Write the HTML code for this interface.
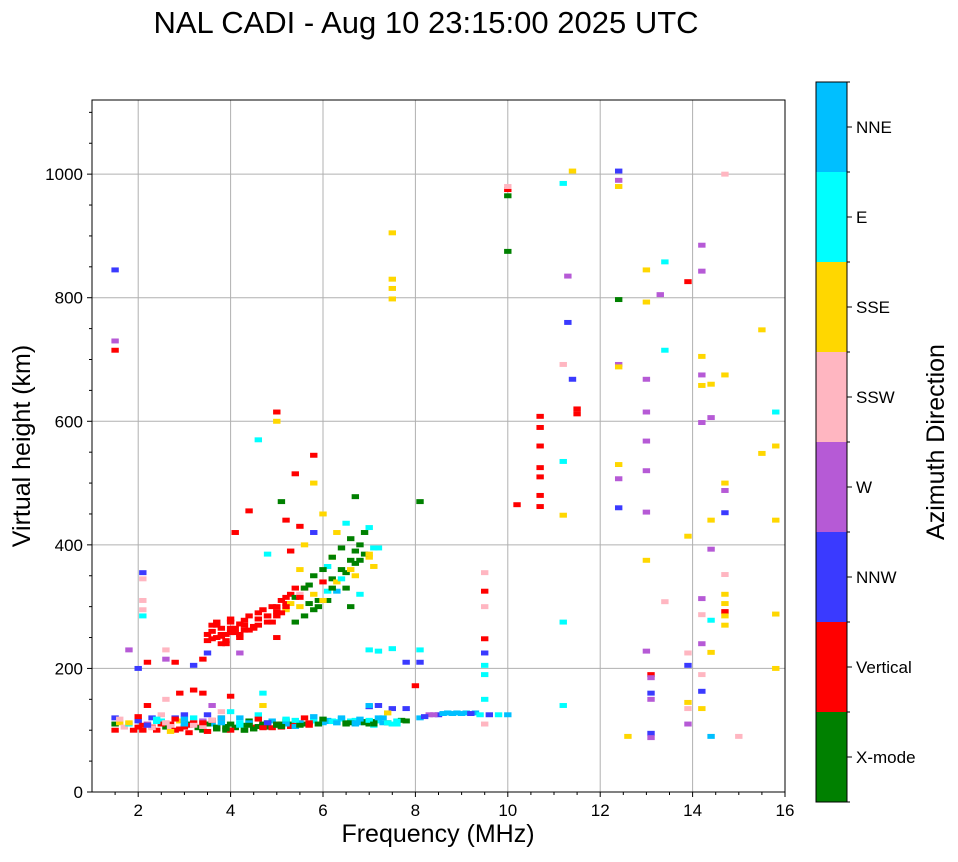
<!DOCTYPE html>
<html><head><meta charset="utf-8"><style>
body{margin:0;background:#fff;font-family:"Liberation Sans","DejaVu Sans",sans-serif;}
svg text{font-family:"Liberation Sans","DejaVu Sans",sans-serif;}
</style></head><body>
<svg id="c" width="958" height="857" xmlns="http://www.w3.org/2000/svg">
<text x="426" y="33" font-size="31" text-anchor="middle">NAL CADI - Aug 10 23:15:00 2025 UTC</text>
<g id="grid"></g><g id="marks"></g><g id="axes"></g><g id="cbar"></g>
<text x="438" y="842" font-size="25" text-anchor="middle">Frequency (MHz)</text>
<text transform="translate(30,446) rotate(-90)" font-size="25" text-anchor="middle">Virtual height (km)</text>
<text transform="translate(944,442) rotate(-90)" font-size="25" text-anchor="middle">Azimuth Direction</text>
</svg>
<script>
const categories=["X-mode","Vertical","NNW","W","SSW","SSE","E","NNE"];
const catColors=["#008000","#ff0000","#3a3aff","#b65ad6","#ffb6c1","#ffd700","#00ffff","#00bfff"];
const xTicks=[2,4,6,8,10,12,14,16];
const yTicks=[0,200,400,600,800,1000];
const echoFreq=[1.5,1.5,1.5,1.6,1.7,1.8,1.9,2.0,2.0,2.1,2.2,2.3,2.3,2.4,2.5,2.5,2.6,2.7,2.8,2.8,2.9,3.0,3.0,3.1,3.2,3.3,3.4,3.4,3.5,3.6,3.7,3.8,3.9,4.0,4.0,4.1,4.2,4.3,4.4,4.5,4.6,4.7,4.8,4.9,5.0,5.1,5.2,5.3,5.4,5.5,5.6,5.8,6.0,6.2,6.4,6.5,6.6,6.8,7.0,7.0,7.2,7.3,7.4,7.5,7.6,7.8,7.8,8.1,8.3,8.5,8.9,9.3,9.6,9.8,10.0,4.0,4.7,4.7,3.4,3.2,2.9,3.6,2.6,2.2,3.8,7.0,7.2,7.4,
2.1,2.3,2.5,2.7,2.9,3.1,3.3,3.5,3.7,3.9,4.1,4.3,4.5,4.7,4.9,5.1,5.3,5.5,5.7,5.9,6.1,6.3,6.5,6.7,6.9,7.1,2.4,2.6,2.8,3.0,3.2,3.4,3.6,3.8,4.2,4.4,4.6,4.8,5.0,5.2,5.4,5.7,6.1,6.3,6.7,6.9,7.1,7.3,7.7,8.7,9.1,
2.0,1.8,2.2,2.6,2.8,2.6,3.2,3.4,3.5,3.5,3.6,3.7,3.8,3.9,4.0,4.0,4.2,4.3,4.4,4.5,4.6,4.7,4.8,4.9,5.0,5.1,5.2,5.3,5.4,5.5,5.6,5.7,5.8,5.9,6.0,6.1,6.2,6.3,6.4,6.5,6.6,6.7,6.7,6.8,6.9,7.0,7.1,7.2,6.5,6.3,6.0,5.8,5.5,5.2,5.1,5.8,5.8,5.0,5.0,4.4,4.1,4.8,5.3,5.6,4.2,5.0,5.5,6.1,6.2,6.6,6.8,7.0,7.2,7.5,7.8,8.1,8.1,7.5,7.5,7.5,7.5,6.7,5.4,4.6,7.0,8.1,8.0,
3.6,3.7,3.8,3.9,4.1,4.3,4.5,3.7,3.9,4.1,4.3,4.6,4.8,5.0,5.2,5.4,5.6,5.8,6.0,6.2,6.4,6.6,
3.5,3.6,3.8,4.0,4.2,4.4,3.8,4.0,4.2,4.6,4.8,5.0,5.2,5.4,5.1,5.3,5.5,5.7,5.9,6.1,6.3,6.5,6.7,6.9,6.4,6.6,6.8,7.0,7.1,5.6,5.8,6.0,6.2,4.9,5.2,5.5,
1.6,1.8,2.0,2.2,2.4,2.6,2.8,3.0,3.2,3.4,3.6,3.8,4.0,4.2,4.4,4.6,4.8,5.0,5.2,5.4,5.6,5.8,6.0,6.2,6.4,6.6,6.8,7.0,7.2,7.4,7.6,2.7,3.1,3.5,3.9,4.3,4.7,5.1,5.5,5.9,6.3,6.7,7.1,7.5,8.2,8.4,8.6,8.8,9.0,9.2,9.4,
9.5,9.5,9.5,9.5,9.5,9.5,9.5,9.5,9.5,10.0,10.0,10.0,10.0,10.2,10.7,10.7,10.7,10.7,10.7,10.7,10.7,
11.2,11.2,11.2,11.2,11.2,11.4,11.3,11.3,11.2,11.4,11.5,11.5,12.4,12.4,12.4,12.4,12.4,12.4,12.4,12.4,12.4,12.6,
13.0,13.0,13.0,13.0,13.0,13.0,13.0,13.0,13.0,13.1,13.1,13.1,13.1,13.1,13.1,13.4,13.3,13.4,13.4,13.9,13.9,13.9,13.9,13.9,13.9,13.9,
14.2,14.2,14.2,14.2,14.2,14.2,14.2,14.2,14.2,14.2,14.2,14.2,14.4,14.4,14.4,14.4,14.4,14.4,14.4,
14.7,14.7,14.7,14.7,14.7,14.7,14.7,14.7,14.7,14.7,14.7,15.0,15.5,15.5,15.8,15.8,15.8,15.8,15.8,
1.5,1.5,1.5,2.1,2.1,2.1,2.1,2.1];
const echoHeight=[100,110,120,112,105,110,100,115,105,100,110,120,105,100,115,125,105,110,120,100,115,105,125,110,120,105,115,100,125,110,105,120,100,110,130,105,120,100,115,105,125,110,105,115,110,105,115,110,108,112,110,115,112,115,118,110,115,112,110,138,115,120,112,135,110,115,135,120,125,125,128,128,125,125,125,155,140,160,160,165,160,140,150,140,130,140,140,128,
108,104,110,106,102,108,104,110,102,106,104,108,102,108,104,110,106,112,108,110,114,112,112,110,112,108,114,112,118,110,112,106,116,112,108,112,106,112,108,110,106,112,116,114,116,114,114,112,116,128,128,
200,230,210,215,210,230,205,215,225,245,260,270,255,245,265,280,255,270,285,265,280,295,275,300,285,310,295,320,275,300,330,305,320,300,340,310,345,325,360,330,375,390,350,400,420,380,365,395,435,420,450,420,430,440,470,500,545,615,600,455,420,385,390,400,225,250,360,365,380,300,320,230,228,232,210,230,210,798,815,830,905,478,515,570,428,470,172,
248,250,252,255,258,262,268,275,240,265,278,270,285,292,305,315,330,350,360,380,395,410,
255,270,265,275,250,262,240,258,272,290,285,300,315,330,290,305,320,335,310,325,340,355,370,385,345,360,375,385,395,285,295,310,330,275,300,315,
118,112,122,108,118,112,100,118,108,112,116,120,100,112,108,118,112,108,118,116,120,122,118,114,120,112,118,116,120,112,115,98,96,98,102,100,104,106,108,110,112,112,110,110,122,125,127,127,127,127,125,
355,325,300,248,225,205,190,150,110,975,965,980,875,465,608,590,560,525,510,480,462,
985,535,448,275,140,1005,835,760,692,668,620,612,1005,990,980,797,692,688,530,507,460,90,
845,793,668,615,568,520,453,375,228,190,185,160,150,95,88,858,805,715,308,826,414,225,205,145,135,110,
885,843,705,675,658,598,313,287,240,190,163,135,660,606,440,393,278,226,90,
1000,675,500,488,452,352,320,305,292,285,270,90,748,548,615,560,440,288,200,
845,730,715,355,345,310,295,285];
const echoCat=[1,0,2,5,4,6,1,2,1,1,3,2,1,1,6,4,0,1,2,4,5,1,2,0,6,1,3,0,2,7,0,1,0,0,6,0,7,0,0,1,6,0,0,7,0,1,0,0,1,7,0,6,7,6,6,0,6,7,0,2,6,7,0,2,6,0,2,7,3,2,7,7,2,6,7,1,5,6,1,1,1,3,4,1,4,7,2,5,
1,4,1,4,1,1,0,0,0,0,0,0,0,0,1,0,1,7,1,6,7,6,0,7,0,6,6,4,1,7,1,4,1,7,6,7,0,0,1,7,7,1,7,6,6,0,0,7,0,7,7,
2,3,1,3,1,4,2,1,2,1,1,1,1,1,1,1,1,1,1,1,1,1,1,1,1,1,5,1,0,5,1,0,5,0,1,0,0,7,0,0,0,0,5,0,0,5,5,6,6,5,5,2,1,1,0,5,1,1,5,1,1,6,1,5,3,1,5,6,5,0,6,6,6,6,2,6,2,5,5,5,5,0,1,6,6,0,1,
1,1,1,1,1,1,1,1,1,1,1,1,1,1,1,0,0,0,0,0,0,0,
1,1,1,1,1,1,1,1,1,1,1,1,1,1,1,5,4,0,0,6,5,0,0,0,6,5,0,5,6,0,0,5,0,1,1,1,
4,5,1,2,6,4,1,7,4,1,4,7,1,6,0,1,2,0,6,6,1,7,0,6,7,0,7,6,7,6,6,5,1,1,0,0,1,0,0,0,7,7,0,6,2,3,7,7,7,2,6,
4,1,4,1,2,6,6,6,4,1,0,4,0,1,1,1,1,1,1,1,1,
6,6,5,6,6,5,3,2,4,2,1,1,2,3,5,0,3,5,5,3,2,5,
5,5,3,3,3,3,3,5,3,1,3,2,3,2,3,6,3,6,4,1,5,4,2,5,4,3,
3,3,5,3,5,3,3,4,3,4,2,5,5,3,5,3,6,5,7,
4,5,5,3,2,4,5,5,1,5,5,4,5,5,6,5,5,5,5,
2,3,1,2,4,4,4,6];
const svg=document.getElementById('c');
const NS="http://www.w3.org/2000/svg";
const L=92,R=785,T=100,B=792,XMIN=1,XMAX=16,YMIN=0,YMAX=1120;
const xs=f=>L+(f-XMIN)/(XMAX-XMIN)*(R-L);
const ys=h=>B-(h-YMIN)/(YMAX-YMIN)*(B-T);
function mk(tag,attrs,parent){const e=document.createElementNS(NS,tag);for(const k in attrs)e.setAttribute(k,attrs[k]);parent.appendChild(e);return e;}
const grid=document.getElementById('grid'),marks=document.getElementById('marks'),axes=document.getElementById('axes'),cbar=document.getElementById('cbar');
xTicks.forEach(v=>{
 const g=mk('line',{x1:xs(v),x2:xs(v),y1:T,y2:B,stroke:'#b0b0b0','stroke-width':1},grid);
 
 
 mk('line',{x1:xs(v),x2:xs(v),y1:B,y2:B+5,stroke:'#000'},axes);
 const lb=mk('text',{x:xs(v),y:B+24,'font-size':17,'text-anchor':'middle'},axes);lb.textContent=v;
 
 
});
for(let v=1.5;v<16;v+=0.5){if(v%2!==0)mk('line',{x1:xs(v),x2:xs(v),y1:B,y2:B+3,stroke:'#000'},axes);}
yTicks.forEach(v=>{
 if(v>0){const g=mk('line',{x1:L,x2:R,y1:ys(v),y2:ys(v),stroke:'#b0b0b0','stroke-width':1},grid);
 
 }
 mk('line',{x1:L-5,x2:L,y1:ys(v),y2:ys(v),stroke:'#000'},axes);
 const lb=mk('text',{x:L-9,y:ys(v)+6,'font-size':17,'text-anchor':'end'},axes);lb.textContent=v;
 
 
});
for(let v=50;v<1120;v+=50){if(v%200!==0)mk('line',{x1:L-3,x2:L,y1:ys(v),y2:ys(v),stroke:'#000'},axes);}
const fr=mk('rect',{x:L,y:T,width:R-L,height:B-T,fill:'none',stroke:'#000','stroke-width':1},axes);


const W=0.16,H=8;
echoFreq.forEach((f,i)=>{
 const r=mk('rect',{x:xs(f-W/2),y:ys(echoHeight[i]+H/2),width:xs(f+W/2)-xs(f-W/2),height:ys(0)-ys(H),fill:catColors[echoCat[i]]},marks);
 
 
});
const CX=816,CW=31,CT=82,CB=802,seg=(CB-CT)/categories.length;
categories.forEach((c,i)=>{
 const y=CB-(i+1)*seg;
 const r=mk('rect',{x:CX,y:y,width:CW,height:seg,fill:catColors[i]},cbar);
 
 
 mk('line',{x1:CX+CW,x2:CX+CW+5,y1:y+seg/2,y2:y+seg/2,stroke:'#000'},cbar);
 const t=mk('text',{x:CX+CW+9,y:y+seg/2+6,'font-size':17},cbar);t.textContent=c;
 
 
});
for(let i=0;i<=categories.length;i++)mk('line',{x1:CX+CW,x2:CX+CW+3,y1:CT+i*seg,y2:CT+i*seg,stroke:'#000'},cbar);
mk('rect',{x:CX,y:CT,width:CW,height:CB-CT,fill:'none',stroke:'#000'},cbar);
</script>
</body></html>
